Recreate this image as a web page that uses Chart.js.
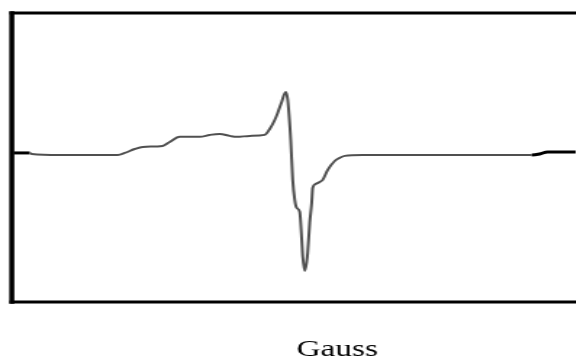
<!DOCTYPE html>
<html>
<head>
<meta charset="utf-8">
<script src="https://cdn.jsdelivr.net/npm/chart.js@4"></script>
<style>
  html, body { margin: 0; padding: 0; overflow: hidden; background: #fff; width: 576px; height: 360px; }
  #chart { display: block; transform: scaleX(1.45); transform-origin: 0 0; }
</style>
</head>
<body>
<canvas id="chart" width="457" height="364"></canvas>
<script>
// field position (arbitrary units) and signal
const field = [0.35, 3.19, 3.55, 8.51, 18.79, 20.04, 21.81, 23.23, 26.77, 28.01,
  29.79, 33.33, 35.11, 36.88, 38.65, 39.89, 42.20, 44.86, 45.74, 46.63,
  47.16, 47.87, 48.58, 48.94, 49.47, 49.82, 50.18, 50.53, 51.06, 51.42,
  51.60, 51.95, 52.30, 52.48, 52.84, 53.19, 53.37, 53.90, 54.61, 55.14,
  56.03, 57.27, 58.16, 59.04, 62.23, 77.66, 92.20, 93.62, 95.04, 100];
const signal = [0.007, 0.007, 0, -0.007, -0.007, 0.007, 0.035, 0.050, 0.057, 0.085,
  0.121, 0.121, 0.135, 0.142, 0.128, 0.121, 0.128, 0.135, 0.177, 0.241,
  0.291, 0.369, 0.440, 0.383, 0.099, -0.184, -0.326, -0.383, -0.411, -0.610,
  -0.730, -0.830, -0.766, -0.702, -0.489, -0.348, -0.241, -0.213, -0.199, -0.184,
  -0.113, -0.050, -0.028, -0.014, -0.007, -0.007, -0.007, 0, 0.014, 0.014];
const axisTitle = 'Gauss';

const points = field.map((x, i) => ({ x: x, y: signal[i] }));

const framePlugin = {
  id: 'frame',
  afterDraw(chart) {
    const { ctx, chartArea: a } = chart;
    ctx.save();
    ctx.strokeStyle = '#000';
    ctx.lineCap = 'square';
    ctx.lineWidth = 3;
    ctx.beginPath();
    ctx.moveTo(a.left, a.top); ctx.lineTo(a.right, a.top);
    ctx.moveTo(a.left, a.bottom); ctx.lineTo(a.right, a.bottom);
    ctx.stroke();
    ctx.lineWidth = 3.5;
    ctx.beginPath();
    ctx.moveTo(a.left, a.top); ctx.lineTo(a.left, a.bottom);
    ctx.stroke();
    ctx.restore();
  }
};

const isEnd = c => c.p0.parsed.x < 3 || c.p0.parsed.x > 92;

new Chart(document.getElementById('chart'), {
  type: 'line',
  data: {
    datasets: [{
      data: points,
      borderColor: '#505050',
      borderWidth: 2,
      pointRadius: 0,
      cubicInterpolationMode: 'monotone',
      segment: {
        borderColor: c => isEnd(c) ? '#000' : undefined,
        borderWidth: c => isEnd(c) ? 3 : undefined
      }
    }]
  },
  options: {
    responsive: false,
    devicePixelRatio: 1,
    animation: false,
    layout: { padding: { left: 8.1, top: 13, right: 0, bottom: 0 } },
    plugins: { legend: { display: false }, tooltip: { enabled: false } },
    scales: {
      x: {
        type: 'linear',
        min: 0,
        max: 115.43,
        grid: { display: false, drawTicks: false },
        border: { display: false },
        ticks: { display: false },
        title: {
          display: true,
          text: axisTitle,
          color: '#000',
          font: { family: 'Liberation Serif', size: 23 },
          padding: { top: 34.5, bottom: 0 }
        }
      },
      y: {
        display: false,
        min: -1.05,
        max: 1.0
      }
    }
  },
  plugins: [framePlugin]
});
</script>
</body>
</html>
